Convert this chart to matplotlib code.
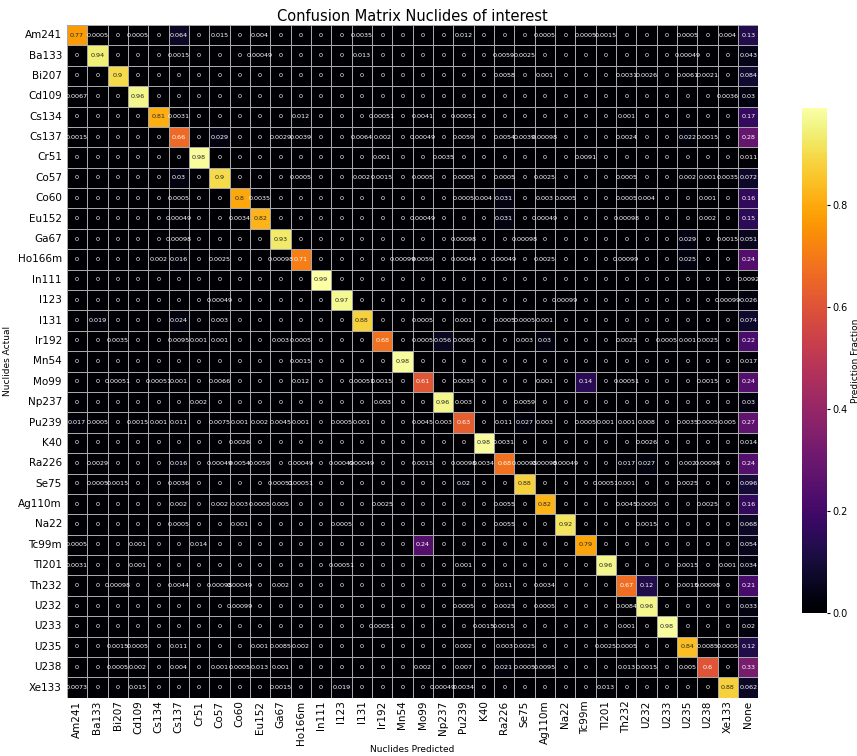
import numpy as np
import matplotlib
matplotlib.use("Agg")
import matplotlib.pyplot as plt
import seaborn as sns

actual = ['Am241', 'Ba133', 'Bi207', 'Cd109', 'Cs134', 'Cs137', 'Cr51', 'Co57', 'Co60',
          'Eu152', 'Ga67', 'Ho166m', 'In111', 'I123', 'I131', 'Ir192', 'Mn54', 'Mo99',
          'Np237', 'Pu239', 'K40', 'Ra226', 'Se75', 'Ag110m', 'Na22', 'Tc99m', 'Tl201',
          'Th232', 'U232', 'U233', 'U235', 'U238', 'Xe133']
predicted = actual + ['None']

# rows = actual nuclide, columns = predicted nuclide
fractions = [
    [0.77, 0.0005, 0, 0.0005, 0, 0.064, 0, 0.015, 0, 0.004, 0, 0, 0, 0, 0.0035, 0, 0, 0, 0, 0.012, 0, 0, 0, 0.0005, 0, 0.0005, 0.0015, 0, 0, 0, 0.0005, 0, 0.004, 0.13],
    [0, 0.94, 0, 0, 0, 0.0015, 0, 0, 0, 0.00049, 0, 0, 0, 0, 0.013, 0, 0, 0, 0, 0, 0, 0.0059, 0.0025, 0, 0, 0, 0, 0, 0, 0, 0.00049, 0, 0, 0.043],
    [0, 0, 0.9, 0, 0, 0, 0, 0, 0, 0, 0, 0, 0, 0, 0, 0, 0, 0, 0, 0, 0, 0.0058, 0, 0.001, 0, 0, 0, 0.0031, 0.0026, 0, 0.0061, 0.0021, 0, 0.084],
    [0.0067, 0, 0, 0.96, 0, 0, 0, 0, 0, 0, 0, 0, 0, 0, 0, 0, 0, 0, 0, 0, 0, 0, 0, 0, 0, 0, 0, 0, 0, 0, 0, 0, 0.0036, 0.03],
    [0, 0, 0, 0, 0.81, 0.0031, 0, 0, 0, 0, 0, 0.012, 0, 0, 0, 0.00051, 0, 0.0041, 0, 0.00051, 0, 0, 0, 0, 0, 0, 0, 0.001, 0, 0, 0, 0, 0, 0.17],
    [0.0015, 0, 0, 0, 0, 0.66, 0, 0.029, 0, 0, 0.0029, 0.0039, 0, 0, 0.0064, 0.002, 0, 0.00049, 0, 0.0059, 0, 0.0054, 0.0039, 0.00098, 0, 0, 0, 0.0024, 0, 0, 0.022, 0.0015, 0, 0.28],
    [0, 0, 0, 0, 0, 0, 0.98, 0, 0, 0, 0, 0, 0, 0, 0, 0.001, 0, 0, 0.0035, 0, 0, 0, 0, 0, 0, 0.0091, 0, 0, 0, 0, 0, 0, 0, 0.011],
    [0, 0, 0, 0, 0, 0.03, 0, 0.9, 0, 0, 0, 0.0005, 0, 0, 0.002, 0.0015, 0, 0.0005, 0, 0.0005, 0, 0.0005, 0, 0.0025, 0, 0, 0, 0.0005, 0, 0, 0.002, 0.001, 0.0035, 0.072],
    [0, 0, 0, 0, 0, 0.0005, 0, 0, 0.8, 0.0035, 0, 0, 0, 0, 0, 0, 0, 0, 0, 0.0005, 0.004, 0.031, 0, 0.003, 0.0005, 0, 0, 0.0005, 0.004, 0, 0, 0.001, 0, 0.16],
    [0, 0, 0, 0, 0, 0.00049, 0, 0, 0.0034, 0.82, 0, 0, 0, 0, 0, 0, 0, 0.00049, 0, 0, 0, 0.031, 0, 0.00049, 0, 0, 0, 0.00098, 0, 0, 0, 0.002, 0, 0.15],
    [0, 0, 0, 0, 0, 0.00098, 0, 0, 0, 0, 0.93, 0, 0, 0, 0, 0, 0, 0, 0, 0.00098, 0, 0, 0.00098, 0, 0, 0, 0, 0, 0, 0, 0.029, 0, 0.0015, 0.051],
    [0, 0, 0, 0, 0.002, 0.016, 0, 0.0025, 0, 0, 0.00098, 0.71, 0, 0, 0, 0, 0.00099, 0.0059, 0, 0.00049, 0, 0.00049, 0, 0.0025, 0, 0, 0, 0.00099, 0, 0, 0.025, 0, 0, 0.24],
    [0, 0, 0, 0, 0, 0, 0, 0, 0, 0, 0, 0, 0.99, 0, 0, 0, 0, 0, 0, 0, 0, 0, 0, 0, 0, 0, 0, 0, 0, 0, 0, 0, 0, 0.0092],
    [0, 0, 0, 0, 0, 0, 0, 0.00049, 0, 0, 0, 0, 0, 0.97, 0, 0, 0, 0, 0, 0, 0, 0, 0, 0, 0.00099, 0, 0, 0, 0, 0, 0, 0, 0.00099, 0.026],
    [0, 0.019, 0, 0, 0, 0.024, 0, 0.003, 0, 0, 0, 0, 0, 0, 0.88, 0, 0, 0.0005, 0, 0.001, 0, 0.0005, 0.0005, 0.001, 0, 0, 0, 0, 0, 0, 0, 0, 0, 0.074],
    [0, 0, 0.0035, 0, 0, 0.0095, 0.001, 0.001, 0, 0, 0.003, 0.0005, 0, 0, 0, 0.68, 0, 0.0005, 0.056, 0.0065, 0, 0, 0.003, 0.03, 0, 0, 0, 0.0025, 0, 0.0005, 0.001, 0.0025, 0, 0.22],
    [0, 0, 0, 0, 0, 0, 0, 0, 0, 0, 0, 0.0015, 0, 0, 0, 0, 0.98, 0, 0, 0, 0, 0, 0, 0, 0, 0, 0, 0, 0, 0, 0, 0, 0, 0.017],
    [0, 0, 0.00051, 0, 0.00051, 0.001, 0, 0.0066, 0, 0, 0, 0.012, 0, 0, 0.00051, 0.0015, 0, 0.61, 0, 0.0035, 0, 0, 0, 0.001, 0, 0.14, 0, 0.00051, 0, 0, 0, 0.0015, 0, 0.24],
    [0, 0, 0, 0, 0, 0, 0.002, 0, 0, 0, 0, 0, 0, 0, 0, 0.003, 0, 0, 0.96, 0.003, 0, 0, 0.0059, 0, 0, 0, 0, 0, 0, 0, 0, 0, 0, 0.03],
    [0.017, 0.0005, 0, 0.0015, 0.001, 0.011, 0, 0.0075, 0.001, 0.002, 0.0045, 0.001, 0, 0.0005, 0.001, 0, 0, 0.0045, 0.003, 0.63, 0, 0.011, 0.027, 0.003, 0, 0.0005, 0.001, 0.001, 0.008, 0, 0.0035, 0.0005, 0.005, 0.27],
    [0, 0, 0, 0, 0, 0, 0, 0, 0.0026, 0, 0, 0, 0, 0, 0, 0, 0, 0, 0, 0, 0.98, 0.0031, 0, 0, 0, 0, 0, 0, 0.0026, 0, 0, 0, 0, 0.014],
    [0, 0.0029, 0, 0, 0, 0.016, 0, 0.00049, 0.0054, 0.0059, 0, 0.00049, 0, 0.00049, 0.00049, 0, 0, 0.0015, 0, 0.00098, 0.0034, 0.68, 0.00098, 0.00098, 0.00049, 0, 0, 0.017, 0.027, 0, 0.002, 0.00098, 0, 0.24],
    [0, 0.0005, 0.0015, 0, 0, 0.0036, 0, 0, 0, 0, 0.00051, 0.00051, 0, 0, 0, 0, 0, 0, 0, 0.02, 0, 0, 0.88, 0, 0, 0, 0.00051, 0.001, 0, 0, 0.0025, 0, 0, 0.096],
    [0, 0, 0, 0, 0, 0.002, 0, 0.002, 0.003, 0.0005, 0.005, 0, 0, 0, 0, 0.0025, 0, 0, 0, 0, 0, 0.0055, 0, 0.82, 0, 0, 0, 0.0045, 0.0005, 0, 0, 0.0025, 0, 0.16],
    [0, 0, 0, 0, 0, 0.0005, 0, 0, 0.001, 0, 0, 0, 0, 0.0005, 0, 0, 0, 0, 0, 0, 0, 0.0055, 0, 0, 0.92, 0, 0, 0, 0.0015, 0, 0, 0, 0, 0.068],
    [0.0005, 0, 0, 0.001, 0, 0, 0.014, 0, 0, 0, 0, 0, 0, 0, 0, 0, 0, 0.24, 0, 0, 0, 0, 0, 0, 0, 0.79, 0, 0, 0, 0, 0, 0, 0, 0.054],
    [0.0031, 0, 0, 0.001, 0, 0, 0, 0, 0, 0, 0, 0, 0, 0.00051, 0, 0, 0, 0, 0, 0.001, 0, 0, 0, 0, 0, 0, 0.96, 0, 0, 0, 0.0015, 0, 0.001, 0.034],
    [0, 0, 0.00098, 0, 0, 0.0044, 0, 0.00098, 0.00049, 0, 0.002, 0, 0, 0, 0, 0, 0, 0, 0, 0, 0, 0.011, 0, 0.0034, 0, 0, 0, 0.67, 0.12, 0, 0.0015, 0.00098, 0, 0.21],
    [0, 0, 0, 0, 0, 0, 0, 0, 0.00099, 0, 0, 0, 0, 0, 0, 0, 0, 0, 0, 0.0005, 0, 0.0025, 0, 0.0005, 0, 0, 0, 0.0084, 0.96, 0, 0, 0, 0, 0.033],
    [0, 0, 0, 0, 0, 0, 0, 0, 0, 0, 0, 0, 0, 0, 0, 0.00051, 0, 0, 0, 0, 0.0015, 0.0015, 0, 0, 0, 0, 0, 0.001, 0, 0.98, 0, 0, 0, 0.02],
    [0, 0, 0.0015, 0.0005, 0, 0.011, 0, 0, 0, 0.001, 0.0085, 0.002, 0, 0, 0, 0, 0, 0, 0, 0.002, 0, 0.003, 0.0025, 0, 0, 0, 0.0025, 0.0005, 0, 0, 0.84, 0.0085, 0.0005, 0.12],
    [0, 0, 0.0005, 0.002, 0, 0.004, 0, 0.001, 0.0005, 0.013, 0.001, 0, 0, 0, 0, 0, 0, 0.002, 0, 0.007, 0, 0.021, 0.0005, 0.0095, 0, 0, 0, 0.013, 0.0015, 0, 0.005, 0.6, 0, 0.33],
    [0.0073, 0, 0, 0.015, 0, 0, 0, 0, 0, 0, 0.0015, 0, 0, 0.019, 0, 0, 0, 0, 0.00049, 0.0034, 0, 0, 0, 0, 0, 0, 0.013, 0, 0, 0, 0, 0, 0.88, 0.062],
]

cm = np.array(fractions)

fig = plt.figure(figsize=(8.57, 7.56), dpi=100)
ax = fig.add_axes([0.078, 0.077, 0.807, 0.890])
cax = fig.add_axes([0.936, 0.189, 0.029, 0.668])

sns.heatmap(cm, ax=ax, cbar_ax=cax, cmap='inferno', annot=True, fmt='.2g',
            annot_kws={'fontsize': 4.6}, linewidths=0.5, linecolor='#a8a8a8',
            xticklabels=predicted, yticklabels=actual)

ax.set_title('Confusion Matrix Nuclides of interest', fontsize=10.5, pad=3)
ax.set_xlabel('Nuclides Predicted', fontsize=6.5, labelpad=0)
ax.set_ylabel('Nuclides Actual', fontsize=6.5)
ax.tick_params(axis='x', labelsize=7.5, rotation=90, length=0, pad=2)
ax.tick_params(axis='y', labelsize=7.5, rotation=0, length=0)

cax.tick_params(labelsize=7, length=2.5, pad=1.5)
cax.set_ylabel('Prediction Fraction', fontsize=6.5, labelpad=2)

fig.savefig('out.png', dpi=100)
